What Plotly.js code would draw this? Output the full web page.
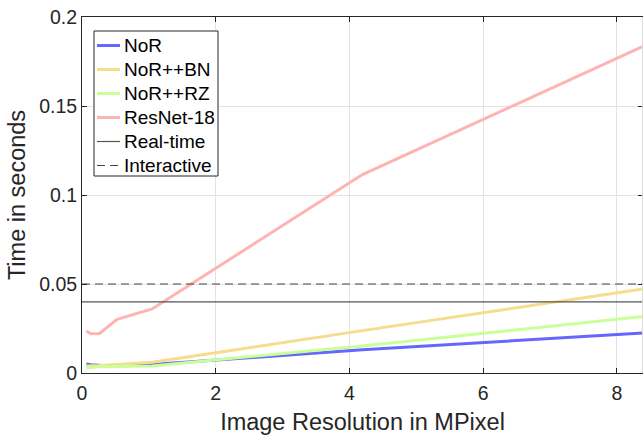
<!DOCTYPE html>
<html><head><meta charset="utf-8">
<script src="https://cdn.plot.ly/plotly-3.0.1.min.js"></script>
<style>html,body{margin:0;padding:0;background:#fff;}#chart{width:643px;height:436px;}</style>
</head><body><div id="chart"></div>
<script>
const resolution = [0.0655, 0.131, 0.262, 0.524, 1.049, 4.194, 8.389];
const norTime = [0.0050, 0.0046, 0.0043, 0.0042, 0.0048, 0.0130, 0.0225];
const norBnTime = [0.0040, 0.0040, 0.0042, 0.0048, 0.0060, 0.0238, 0.0472];
const norRzTime = [0.0030, 0.0032, 0.0035, 0.0037, 0.0040, 0.0152, 0.0317];
const resnetTime = [0.0236, 0.0220, 0.0222, 0.0302, 0.0360, 0.1115, 0.1835];
const realTimeX = [0, 8.389];
const realTimeY = [0.04, 0.04];
const interactiveY = [0.05, 0.05];
const seriesNames = ['NoR', 'NoR++BN', 'NoR++RZ', 'ResNet-18', 'Real-time', 'Interactive'];
const xTicks = [0, 2, 4, 6, 8];
const yTicks = [0, 0.05, 0.1, 0.15, 0.2];
const yTickLabels = ['0', '0.05', '0.1', '0.15', '0.2'];

const lineStyles = [
  {color: '#6666ff', width: 3},
  {color: '#f7dc8e', width: 3},
  {color: '#c8ff99', width: 3},
  {color: '#ffb4b4', width: 3},
  {color: '#555555', width: 1.2},
  {color: '#444444', width: 1.2, dash: '8px,5px'}
];
const ys = [norTime, norBnTime, norRzTime, resnetTime, realTimeY, interactiveY];
const xs = [resolution, resolution, resolution, resolution, realTimeX, realTimeX];

const traces = seriesNames.map((n, i) => ({
  x: xs[i], y: ys[i], name: n, mode: 'lines', line: lineStyles[i], showlegend: false
}));

// plot area in pixels (for legend placement)
const W = 643, H = 436, ML = 82, MR = 0, MT = 17, MB = 63;
const PW = W - ML - MR, PH = H - MT - MB;
const px = v => (v - ML) / PW;
const py = v => (H - MB - v) / PH;

const legBox = {x0: 94, x1: 218, y0: 31, y1: 176};
const rowY0 = 45.5, rowStep = 24;
const shapes = [
  {type: 'line', xref: 'paper', yref: 'paper', x0: 0.999, x1: 0.999, y0: 0, y1: 1,
    line: {color: '#dddddd', width: 1}},
  {type: 'rect', xref: 'paper', yref: 'paper', x0: px(legBox.x0), x1: px(legBox.x1),
    y0: py(legBox.y1), y1: py(legBox.y0), fillcolor: '#ffffff', line: {color: '#262626', width: 1}}
];
const annotations = [];
seriesNames.forEach((n, i) => {
  const yy = rowY0 + i * rowStep;
  shapes.push({type: 'line', xref: 'paper', yref: 'paper', x0: px(97), x1: px(120),
    y0: py(yy), y1: py(yy), line: lineStyles[i]});
  annotations.push({xref: 'paper', yref: 'paper', x: px(122), y: py(yy), xanchor: 'left', yanchor: 'middle',
    text: n, showarrow: false, font: {size: 19, color: '#000'}});
});

const axisCommon = {
  showline: true, linecolor: '#262626', linewidth: 1, mirror: 'ticks',
  ticks: 'inside', ticklen: 5, tickcolor: '#262626',
  showgrid: true, gridcolor: '#e3e3e3', gridwidth: 1, zeroline: false,
  tickfont: {size: 19.5, color: '#262626'}
};

const layout = {
  width: W, height: H,
  margin: {l: ML, r: MR, t: MT, b: MB},
  paper_bgcolor: '#fff', plot_bgcolor: '#fff',
  font: {family: 'Liberation Sans, Arial, sans-serif', color: '#262626'},
  showlegend: false,
  xaxis: Object.assign({}, axisCommon, {
    range: [0, 8.389], tickvals: xTicks, ticktext: xTicks.map(String), ticklabelstandoff: 3,
    title: {text: 'Image Resolution in MPixel', font: {size: 23.5, color: '#262626'}, standoff: 10}
  }),
  yaxis: Object.assign({}, axisCommon, {
    range: [0, 0.2], tickvals: yTicks, ticktext: yTickLabels,
    title: {text: 'Time in seconds', font: {size: 23.5, color: '#262626'}, standoff: 6}
  }),
  shapes: shapes,
  annotations: annotations
};

Plotly.newPlot('chart', traces, layout, {displayModeBar: false, staticPlot: true});
</script></body></html>
